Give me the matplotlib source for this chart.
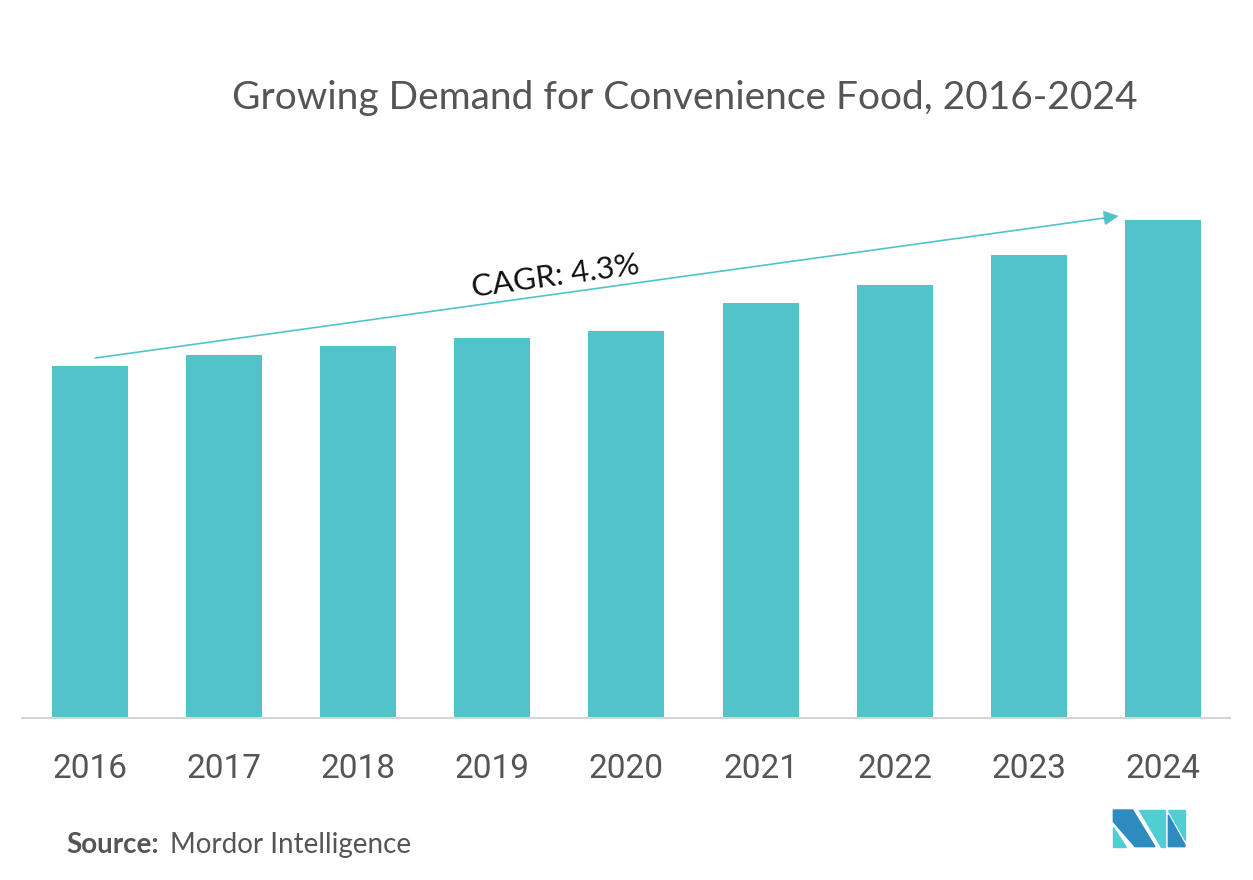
import matplotlib.pyplot as plt
from matplotlib.patches import Polygon

years = ["2016", "2017", "2018", "2019", "2020", "2021", "2022", "2023", "2024"]
demand = [352, 363, 372, 380, 387, 415, 433, 463, 498]
cagr_label = "CAGR: 4.3%"
title = "Growing Demand for Convenience Food, 2016-2024"

BAR = "#52C4C9"
GREY = "#555555"

fig = plt.figure(figsize=(12.53, 8.80), dpi=100)
ax = fig.add_axes([22 / 1253, 162 / 880, 1208 / 1253, 528 / 880])

x = range(len(years))
ax.bar(x, demand, width=0.567, color=BAR, zorder=2)
ax.set_xlim(-0.507, 8.5)
ax.set_ylim(0, 528)

for s in ["top", "right", "left"]:
    ax.spines[s].set_visible(False)
ax.spines["bottom"].set_color("#D5D5D5")
ax.spines["bottom"].set_linewidth(1.5)
ax.set_yticks([])
ax.set_xticks(list(x))
ax.set_xticklabels(years, fontsize=24, color=GREY, family="Roboto")
ax.tick_params(axis="x", length=0, pad=25)

# CAGR arrow and label
ax.annotate("", xy=(7.67, 502), xytext=(0.04, 360),
            arrowprops=dict(arrowstyle="-|>", color=BAR, lw=1.2,
                            mutation_scale=22, shrinkA=0, shrinkB=0))
ax.text(3.47, 442, cagr_label, rotation=7.9, ha="center", va="center",
        fontsize=22.5, family="Lato", color="#111111")

fig.text(685 / 1253, 1 - 98 / 880, title, ha="center", va="center",
         fontsize=28, family="Lato", color=GREY)

fig.text(66 / 1253, 1 - 845 / 880, "Source:", ha="left", va="center",
         fontsize=20, family="Lato", weight="bold", color=GREY)
fig.text(170 / 1253, 1 - 845 / 880, "Mordor Intelligence", ha="left", va="center",
         fontsize=20, family="Lato", color=GREY)

# logo
def logo_poly(pts, color):
    xy = [((1090 + px / 3) / 1253, 1 - (790 + py / 3) / 880) for px, py in pts]
    fig.patches.append(Polygon(xy, closed=True, color=color,
                               transform=fig.transFigure, figure=fig))

DARK = "#2E8BC0"
LIGHT = "#4FCFD2"
logo_poly([(70, 60), (128, 60), (195, 170), (135, 170), (70, 95)], DARK)
logo_poly([(70, 112), (70, 170), (108, 170)], LIGHT)
logo_poly([(148, 60), (225, 60), (225, 170), (212, 170)], LIGHT)
logo_poly([(235, 60), (285, 60), (285, 150)], LIGHT)
logo_poly([(235, 75), (285, 165), (285, 170), (235, 170)], DARK)

fig.savefig("out.png", dpi=100)
